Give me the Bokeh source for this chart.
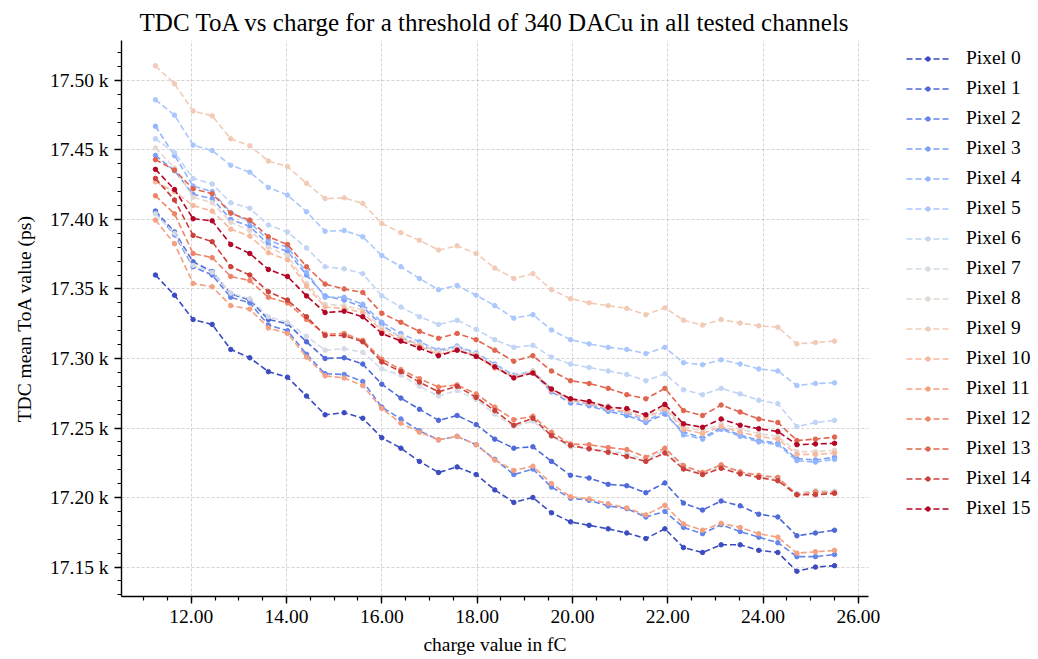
from bokeh.plotting import figure
from bokeh.layouts import row
from bokeh.models import SingleIntervalTicker, PrintfTickFormatter, CustomJSTickFormatter, Legend, LegendItem, Range1d
from bokeh.embed import file_html
from bokeh.resources import INLINE

charge = [11.25, 11.65, 12.04, 12.44, 12.83, 13.23, 13.62, 14.02, 14.42, 14.81, 15.21, 15.60,
          16.00, 16.40, 16.79, 17.19, 17.58, 17.98, 18.37, 18.77, 19.17, 19.56, 19.96, 20.35,
          20.75, 21.14, 21.54, 21.94, 22.33, 22.73, 23.12, 23.52, 23.91, 24.31, 24.71, 25.10, 25.50]

pixel_0 = [17360, 17345.5, 17328, 17324.5, 17306.5, 17300.5, 17290.5, 17286.5, 17273, 17259.5, 17261, 17257,
           17243, 17235.5, 17226, 17218, 17222, 17216.5, 17205.5, 17196.5, 17200, 17189, 17182.5, 17180,
           17177.5, 17174.5, 17170.5, 17177.5, 17164, 17160.5, 17166, 17166, 17162, 17160.5, 17147, 17150, 17151]
pixel_1 = [17406, 17391, 17369.5, 17362.5, 17346.5, 17342, 17328, 17325, 17312, 17300, 17300.5, 17296,
           17281.5, 17271.5, 17263.5, 17255.5, 17259, 17252.5, 17242, 17235.5, 17236.5, 17226, 17216, 17214,
           17209.5, 17208.5, 17203.5, 17210.5, 17196, 17191, 17197.5, 17194, 17188, 17186, 17172.5, 17174.5, 17176.5]
pixel_2 = [17405, 17389, 17366, 17360, 17344, 17340, 17324, 17320, 17303, 17289, 17288.5, 17283.5,
           17265, 17256.5, 17248, 17241.5, 17244, 17238, 17227.5, 17216.5, 17220.5, 17207.5, 17199.5, 17198,
           17194, 17192, 17186, 17190, 17178.5, 17174, 17180.5, 17175.5, 17171.5, 17167.5, 17157.5, 17157.5, 17159]
pixel_3 = [17446, 17435, 17418, 17415, 17400, 17395, 17382, 17377, 17360, 17345, 17342, 17337,
           17324, 17315, 17310, 17305, 17308, 17303, 17294, 17287, 17290, 17276, 17268, 17266,
           17262, 17259, 17254, 17260, 17247, 17243, 17250, 17245, 17241, 17239, 17228, 17227, 17229]
pixel_4 = [17467, 17446, 17424, 17420, 17405, 17398, 17385, 17380, 17362, 17344, 17344, 17339,
           17326, 17318, 17312, 17306, 17309, 17304, 17296, 17288, 17291, 17278, 17270, 17267,
           17263, 17261, 17255, 17262, 17245, 17242, 17249, 17244, 17240, 17238, 17226.5, 17225.5, 17227.5]
pixel_5 = [17486, 17475, 17453.5, 17449.5, 17439, 17434, 17423, 17417.5, 17405.5, 17391.5, 17392, 17387.5,
           17374, 17366, 17357.5, 17349.5, 17352.5, 17345.5, 17338, 17329, 17331.5, 17320.5, 17313.5, 17310.5,
           17308, 17306.5, 17303.5, 17308, 17297, 17295.5, 17299, 17296, 17292.5, 17291, 17280.5, 17282, 17282.5]
pixel_6 = [17458, 17448, 17429.5, 17425.5, 17412, 17408, 17396, 17391, 17379.5, 17366, 17364.5, 17361,
           17345, 17337, 17330, 17324.5, 17327.5, 17321, 17313.5, 17308, 17309.5, 17301, 17296, 17293.5,
           17291, 17288.5, 17284, 17289, 17277.5, 17274, 17278.5, 17274.5, 17270, 17267.5, 17251, 17254, 17255.5]
pixel_7 = [17404, 17390, 17367, 17362, 17347, 17343, 17330, 17326, 17316, 17306, 17307, 17304.5,
           17292.5, 17288, 17280, 17273, 17277, 17270.5, 17260, 17251, 17255, 17244, 17236.5, 17235,
           17233.5, 17231.5, 17227, 17234, 17221.5, 17217, 17222, 17218, 17215, 17213.5, 17203, 17205, 17204.5]
pixel_8 = [17451.5, 17437, 17416, 17412, 17398, 17392, 17380, 17374, 17354, 17339, 17338, 17335,
           17322, 17316, 17310, 17305, 17308, 17303, 17295, 17287, 17291, 17278, 17271, 17269,
           17266, 17263, 17259, 17265, 17251, 17248, 17253, 17249, 17246, 17244, 17233, 17233, 17234]
pixel_9 = [17510.5, 17497.5, 17478, 17474.5, 17458, 17453, 17442, 17438, 17426, 17415, 17415.5, 17411.5,
           17397, 17390.5, 17385, 17378, 17381, 17375.5, 17365, 17357.5, 17361, 17349.5, 17343, 17340,
           17338, 17336, 17331.5, 17336.5, 17327.5, 17324, 17328, 17325.5, 17323.5, 17322.5, 17310.5, 17311.5, 17312.5]
pixel_10 = [17427, 17420, 17410, 17406, 17393, 17388, 17376, 17371, 17352, 17337, 17336, 17333,
            17320, 17314, 17309, 17303, 17306, 17302, 17293, 17286.5, 17290, 17277, 17270, 17268,
            17264, 17262, 17257, 17264, 17249, 17246, 17251, 17247, 17244, 17242, 17231, 17231, 17232]
pixel_11 = [17399.5, 17382.5, 17354, 17351.5, 17338, 17335.5, 17322, 17318, 17301, 17287.5, 17286, 17280.5,
            17264, 17253.5, 17247, 17241.5, 17244, 17238, 17227, 17219.5, 17222.5, 17210, 17200.5, 17199,
            17195.5, 17192.5, 17187.5, 17194.5, 17181, 17176.5, 17181.5, 17178.5, 17174, 17171.5, 17160, 17161, 17162]
pixel_12 = [17417, 17404, 17375.5, 17372.5, 17359, 17356, 17344, 17340, 17328, 17317.5, 17318, 17313,
            17299.5, 17292, 17285.5, 17279.5, 17281, 17274.5, 17265, 17256, 17258.5, 17247, 17238.5, 17238,
            17236, 17234.5, 17229, 17235.5, 17223, 17218, 17223.5, 17218.5, 17216, 17214.5, 17202, 17204, 17203.5]
pixel_13 = [17443, 17435.5, 17422, 17418.5, 17404.5, 17399.5, 17387.5, 17382, 17366, 17353.5, 17350, 17347.5,
            17332.5, 17326, 17319.5, 17314.5, 17318, 17313.5, 17306, 17298, 17302, 17291, 17284, 17282,
            17278.5, 17274, 17271, 17278.5, 17262.5, 17259, 17266.5, 17261.5, 17256.5, 17254, 17241, 17242, 17243.5]
pixel_14 = [17429.5, 17414, 17388.5, 17384, 17366, 17360, 17348, 17342, 17330, 17316.5, 17316.5, 17312,
            17297.5, 17290.5, 17283, 17276, 17280, 17272, 17262.5, 17252, 17257, 17244.5, 17237.5, 17235,
            17232.5, 17229.5, 17226, 17232, 17220.5, 17216.5, 17221, 17217, 17214.5, 17212, 17202, 17202, 17203]
pixel_15 = [17436, 17421.5, 17400.5, 17399, 17382, 17375.5, 17364, 17359, 17345, 17333, 17334, 17330,
            17318, 17312.5, 17307.5, 17302, 17306, 17301.5, 17294, 17286, 17289.5, 17278, 17271, 17269,
            17265, 17264, 17259.5, 17267, 17253, 17250.5, 17256.5, 17252, 17249.5, 17247.5, 17238, 17238.5, 17239]

series = [pixel_0, pixel_1, pixel_2, pixel_3, pixel_4, pixel_5, pixel_6, pixel_7,
          pixel_8, pixel_9, pixel_10, pixel_11, pixel_12, pixel_13, pixel_14, pixel_15]
labels = ["Pixel %d" % i for i in range(16)]

colors = ["#3b4cc0", "#4f69d9", "#6485ec", "#7b9ff9", "#93b5fe", "#aac7fd", "#c0d4f5", "#d4dbe6",
          "#e5d8d1", "#f2cbb7", "#f7b89c", "#f5a081", "#ee8468", "#e0654f", "#cc403a", "#b40426"]

FONT = "Liberation Serif"

allv = [v for s in series for v in s]
ymin, ymax = min(allv), max(allv)
ypad = 0.05 * (ymax - ymin)
xpad = 0.05 * (charge[-1] - charge[0])

p = figure(width=890, height=659, output_backend="svg", toolbar_location=None,
           x_range=Range1d(charge[0] - xpad, charge[-1] + xpad),
           y_range=Range1d(ymin - ypad, ymax + ypad),
           min_border_left=121, min_border_right=22, min_border_top=40, min_border_bottom=63,
           title="TDC ToA vs charge for a threshold of 340 DACu in all tested channels")

p.title.text_font = FONT
p.title.text_font_size = "25px"
p.title.text_font_style = "normal"
p.title.align = "center"
p.title.text_color = "black"

p.outline_line_color = None
p.background_fill_color = "white"
p.border_fill_color = "white"

for s, c in zip(series, colors):
    p.line(charge, s, line_color=c, line_width=1.6, line_dash="6 3")
    p.scatter(charge, s, size=4.5, marker="circle", fill_color=c, line_color=c)

xa = p.xaxis[0]
xa.ticker = SingleIntervalTicker(interval=2, num_minor_ticks=4)
xa.formatter = PrintfTickFormatter(format="%.2f")
ya = p.yaxis[0]
ya.ticker = SingleIntervalTicker(interval=50, num_minor_ticks=5)
ya.formatter = CustomJSTickFormatter(code='return (tick/1000).toFixed(2) + " k";')

for ax in (xa, ya):
    ax.axis_line_width = 1.4
    ax.axis_line_color = "black"
    ax.major_tick_line_width = 1.4
    ax.minor_tick_line_width = 1.2
    ax.major_tick_out = 7
    ax.major_tick_in = 0
    ax.minor_tick_out = 4
    ax.minor_tick_in = 0
    ax.major_label_text_font = FONT
    ax.major_label_text_font_size = "19.5px"
    ax.major_label_text_color = "black"
    ax.axis_label_text_font = FONT
    ax.axis_label_text_font_size = "19.5px"
    ax.axis_label_text_font_style = "normal"
    ax.axis_label_text_color = "black"
    ax.major_label_standoff = 6

xa.axis_label = "charge value in fC"
ya.axis_label = "TDC mean ToA value (ps)"
xa.axis_label_standoff = 8
ya.axis_label_standoff = 12

for g in (p.xgrid[0], p.ygrid[0]):
    g.grid_line_color = "#b0b0b0"
    g.grid_line_width = 0.7
    g.grid_line_dash = "3 2"
    g.grid_line_alpha = 0.8

# legend panel: an axis-free figure holding only the key; its copies of the
# series lie outside its own (unit) ranges, so only their legend samples show.
q = figure(width=148, height=659, output_backend="svg", toolbar_location=None,
           x_range=Range1d(0, 1), y_range=Range1d(0, 1), min_border=0,
           x_axis_location=None, y_axis_location=None)
q.grid.visible = False
q.outline_line_color = None
q.background_fill_color = "white"
q.border_fill_color = "white"

items = []
for s, lab, c in zip(series, labels, colors):
    r1 = q.line(charge, s, line_color=c, line_width=1.6, line_dash="6 3")
    r2 = q.scatter(charge, s, size=4.5, marker="circle", fill_color=c, line_color=c)
    items.append(LegendItem(label=lab, renderers=[r1, r2]))

legend = Legend(items=items, location=(16, 77), border_line_color=None,
                background_fill_alpha=0, padding=5, margin=0,
                glyph_width=43, glyph_height=11, label_height=20, spacing=8,
                label_standoff=17, label_text_font=FONT, label_text_font_size="19.5px",
                label_text_color="black")
q.add_layout(legend, "center")

open("out.html", "w").write(file_html(row(p, q), INLINE))
